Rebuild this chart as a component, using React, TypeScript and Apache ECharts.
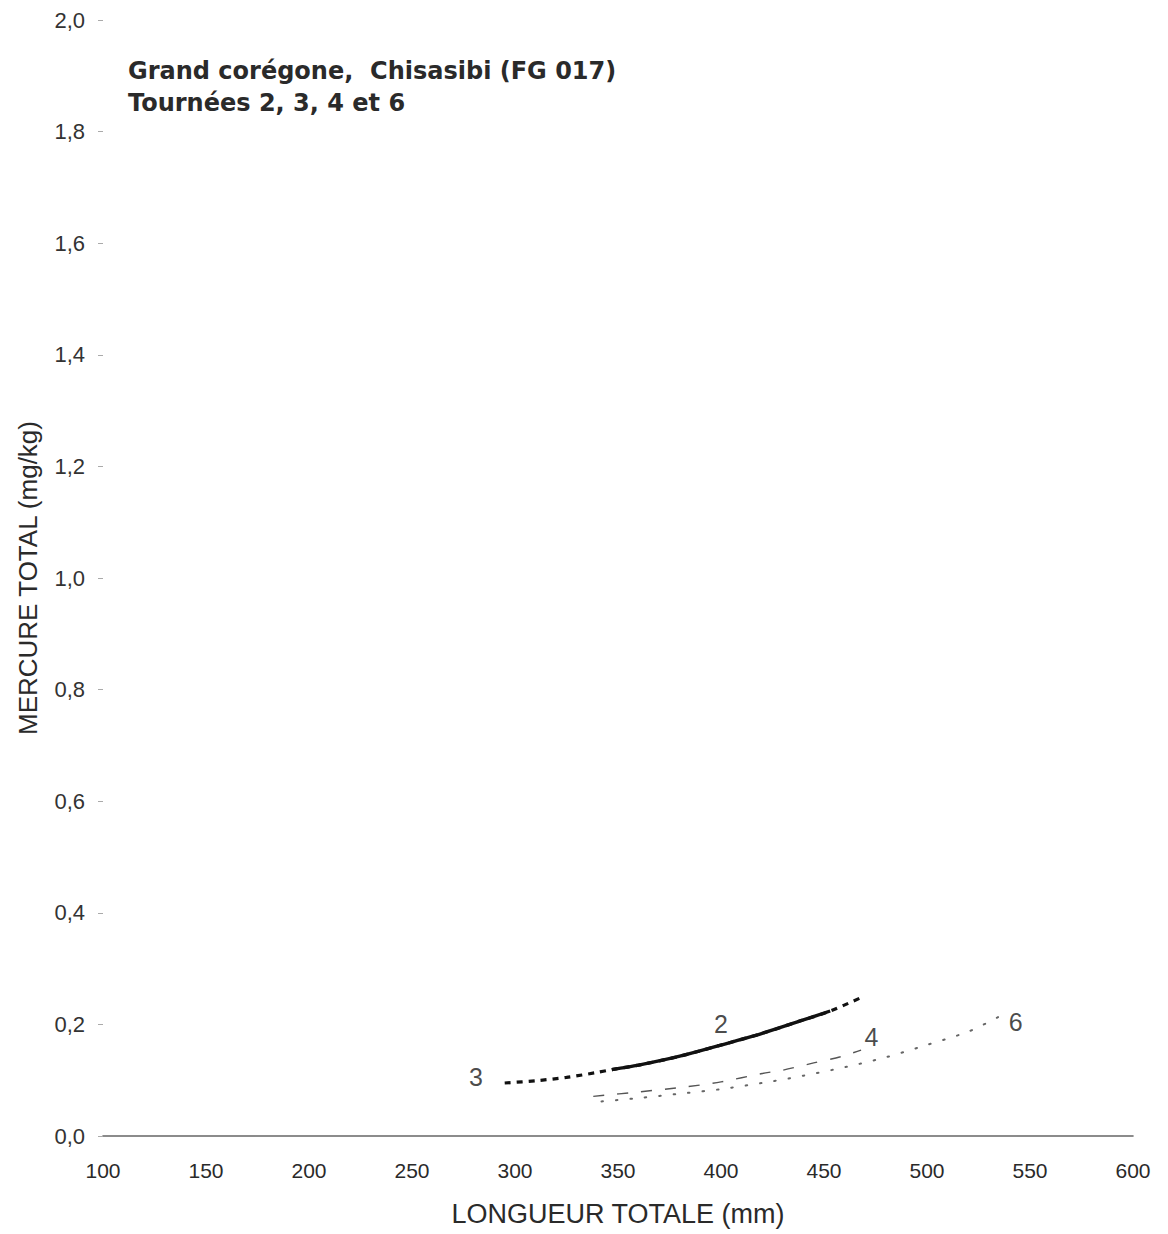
import React, { useEffect, useRef } from "react";
import * as echarts from "echarts";

// ---- data ----
const xTicks = [100, 150, 200, 250, 300, 350, 400, 450, 500, 550, 600];
const yTicks = [0, 0.2, 0.4, 0.6, 0.8, 1.0, 1.2, 1.4, 1.6, 1.8, 2.0];

const titleLine1 = "Grand corégone,  Chisasibi (FG 017)";
const titleLine2 = "Tournées 2, 3, 4 et 6";
const xName = "LONGUEUR TOTALE (mm)";
const yName = "MERCURE TOTAL (mg/kg)";

// Tournée 2 (solid)
const curve2: [number, number][] = [
  [347, 0.119], [360, 0.127], [380, 0.143], [400, 0.163],
  [420, 0.184], [440, 0.208], [453, 0.224],
];
// Tournée 3 (heavy dashed)
const curve3: [number, number][] = [
  [295, 0.095], [310, 0.099], [325, 0.105], [340, 0.114], [347, 0.119],
  [360, 0.127], [380, 0.143], [400, 0.163], [420, 0.184], [440, 0.208],
  [453, 0.224], [468, 0.248],
];
// Tournée 4 (thin dashed)
const curve4: [number, number][] = [
  [338, 0.071], [360, 0.079], [383, 0.088], [400, 0.097],
  [420, 0.112], [430, 0.118], [445, 0.131], [458, 0.142], [468, 0.154],
];
// Tournée 6 (dotted)
const curve6: [number, number][] = [
  [342, 0.062], [360, 0.068], [383, 0.077], [400, 0.084], [420, 0.095],
  [440, 0.108], [461, 0.124], [480, 0.141], [498, 0.161], [520, 0.187],
  [535, 0.214],
];

const curveLabels = [
  { name: "2", x: 400, y: 0.2 },
  { name: "3", x: 281, y: 0.105 },
  { name: "4", x: 473, y: 0.177 },
  { name: "6", x: 543, y: 0.204 },
];

const SANS = "'Liberation Sans', Arial, Helvetica, sans-serif";

export default function App() {
  const ref = useRef<HTMLDivElement>(null);

  useEffect(() => {
    document.body.style.margin = "0";
    const chart = echarts.init(ref.current!, null, { renderer: "svg" });
    const option: any = {
      animation: false,
      backgroundColor: "#ffffff",
      grid: { left: 103, right: 35, top: 20, bottom: 98 },
      graphic: [
        {
          type: "text",
          left: 128,
          top: 59,
          style: {
            text: titleLine1,
            font: "bold 24px 'DejaVu Sans', sans-serif",
            fill: "#2a2a2a",
          },
        },
        {
          type: "text",
          left: 128,
          top: 91,
          style: {
            text: titleLine2,
            font: "bold 24px 'DejaVu Sans', sans-serif",
            fill: "#2a2a2a",
          },
        },
      ],
      xAxis: {
        type: "value",
        min: 100,
        max: 600,
        interval: 50,
        name: xName,
        nameLocation: "middle",
        nameGap: 64,
        nameTextStyle: { fontFamily: SANS, fontSize: 27, color: "#2a2a2a" },
        axisLine: { show: true, onZero: false, lineStyle: { color: "#666", width: 1.6 } },
        axisTick: { show: false },
        splitLine: { show: false },
        axisLabel: {
          fontFamily: SANS,
          fontSize: 21,
          color: "#2a2a2a",
          margin: 24,
          formatter: (v: number) => (xTicks.includes(v) ? String(v) : ""),
        },
      },
      yAxis: {
        type: "value",
        min: 0,
        max: 2.0,
        interval: 0.2,
        name: yName,
        nameLocation: "middle",
        nameGap: 62,
        nameTextStyle: { fontFamily: SANS, fontSize: 26, color: "#2a2a2a" },
        axisLine: { show: false },
        axisTick: { show: true, length: 5, lineStyle: { color: "#aaa", width: 1 } },
        splitLine: { show: false },
        axisLabel: {
          fontFamily: SANS,
          fontSize: 22,
          color: "#333",
          margin: 18,
          formatter: (v: number) => {
            const t = yTicks.find((k) => Math.abs(k - v) < 1e-6);
            return t === undefined ? "" : t.toFixed(1).replace(".", ",");
          },
        },
      },
      series: [
        {
          type: "line",
          name: "3",
          data: curve3,
          smooth: 0.3,
          showSymbol: false,
          lineStyle: { color: "#111", width: 3.2, type: [6, 6], cap: "butt" },
          z: 2,
        },
        {
          type: "line",
          name: "2",
          data: curve2,
          smooth: 0.3,
          showSymbol: false,
          lineStyle: { color: "#111", width: 3.4, type: "solid" },
          z: 3,
        },
        {
          type: "line",
          name: "4",
          data: curve4,
          smooth: 0.3,
          showSymbol: false,
          lineStyle: { color: "#555", width: 1.4, type: [11, 13] },
          z: 2,
        },
        {
          type: "line",
          name: "6",
          data: curve6,
          smooth: 0.3,
          showSymbol: false,
          lineStyle: { color: "#666", width: 2, type: [1.5, 13], cap: "round" },
          z: 2,
        },
        {
          type: "scatter",
          name: "labels",
          symbolSize: 0,
          data: curveLabels.map((c) => ({ name: c.name, value: [c.x, c.y] })),
          label: {
            show: true,
            position: "inside",
            formatter: (p: any) => p.name,
            fontFamily: SANS,
            fontSize: 25,
            color: "#1a1a1a",
          },
          silent: true,
          z: 4,
        },
      ],
    };
    chart.setOption(option);
    return () => chart.dispose();
  }, []);

  return (
    <div
      ref={ref}
      style={{ position: "absolute", left: 0, top: 0, width: 1168, height: 1234, background: "#fff" }}
    />
  );
}
